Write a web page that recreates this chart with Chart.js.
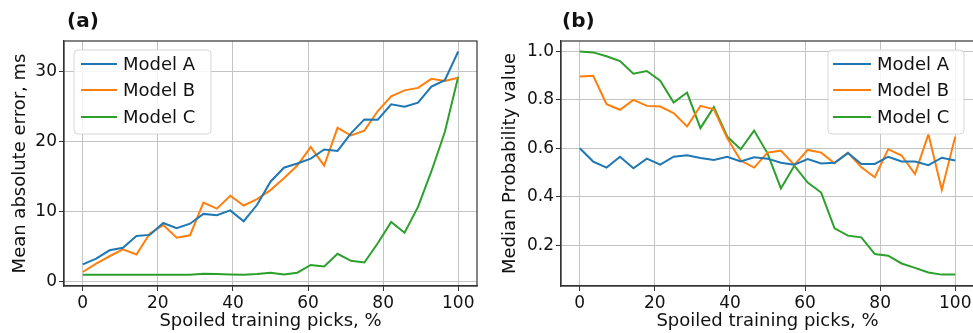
<!DOCTYPE html>
<html>
<head>
<meta charset="utf-8">
<script src="https://cdn.jsdelivr.net/npm/chart.js@4/dist/chart.umd.min.js"></script>
<style>
  html, body { margin: 0; padding: 0; background: #fff; overflow: hidden; }
  #wrap { position: relative; width: 973px; height: 333px; overflow: hidden; }
  canvas { position: absolute; top: 0; }
  #chartA { left: 0; }
  #chartB { left: 490px; }
</style>
</head>
<body>
<div id="wrap">
  <canvas id="chartA" width="490" height="333"></canvas>
  <canvas id="chartB" width="490" height="333"></canvas>
</div>
<script>
// Spoiled training picks, % (shared x values)
const picks = [0, 3.57, 7.14, 10.71, 14.29, 17.86, 21.43, 25, 28.57, 32.14, 35.71, 39.29, 42.86, 46.43,
  50, 53.57, 57.14, 60.71, 64.29, 67.86, 71.43, 75, 78.57, 82.14, 85.71, 89.29, 92.86, 96.43, 100];

const modelNames = ['Model A', 'Model B', 'Model C'];
const modelColors = ['#1f77b4', '#ff7f0e', '#2ca02c'];

// (a) mean absolute error, ms
const maeA = [2.5, 3.3, 4.5, 4.85, 6.55, 6.7, 8.4, 7.65, 8.3, 9.7, 9.5, 10.2, 8.65, 11.0,
  14.3, 16.3, 16.9, 17.6, 18.9, 18.7, 21.2, 23.2, 23.15, 25.35, 25.0, 25.6, 27.9, 28.8, 32.9];
const maeB = [1.4, 2.6, 3.65, 4.65, 3.9, 6.9, 8.1, 6.3, 6.65, 11.3, 10.45, 12.3, 10.9, 11.8,
  13.1, 14.8, 16.6, 19.25, 16.6, 22.0, 20.9, 21.6, 24.4, 26.5, 27.35, 27.7, 29.0, 28.7, 29.15];
const maeC = [1.0, 1.0, 1.0, 1.0, 1.0, 1.0, 1.0, 1.0, 1.0, 1.15, 1.1, 1.05, 1.0, 1.1,
  1.3, 1.05, 1.3, 2.4, 2.2, 4.0, 3.0, 2.75, 5.5, 8.55, 7.0, 10.7, 15.8, 21.4, 29.3];

// (b) median probability value
const probA = [0.60, 0.545, 0.52, 0.565, 0.517, 0.557, 0.532, 0.565, 0.571, 0.56, 0.552, 0.565, 0.545, 0.563,
  0.557, 0.54, 0.532, 0.555, 0.537, 0.54, 0.58, 0.535, 0.535, 0.565, 0.545, 0.545, 0.53, 0.561, 0.549];
const probB = [0.896, 0.899, 0.782, 0.759, 0.80, 0.775, 0.772, 0.745, 0.69, 0.775, 0.761, 0.641, 0.549, 0.52,
  0.582, 0.59, 0.531, 0.593, 0.582, 0.538, 0.582, 0.521, 0.48, 0.596, 0.57, 0.493, 0.658, 0.428, 0.648];
const probC = [1.0, 0.996, 0.98, 0.96, 0.908, 0.919, 0.879, 0.789, 0.83, 0.683, 0.77, 0.648, 0.596, 0.673,
  0.579, 0.434, 0.528, 0.458, 0.417, 0.269, 0.239, 0.232, 0.163, 0.156, 0.124, 0.106, 0.087, 0.078, 0.078];

const xTicks = [0, 20, 40, 60, 80, 100];
const maeTicks = [0, 10, 20, 30];
const probTicks = [0.2, 0.4, 0.6, 0.8, 1.0];

const FONT = 'DejaVu Sans';
const TEXT = '#111';
const LINE_W = 2;

function makeDatasets(seriesList) {
  return seriesList.map((vals, i) => ({
    label: modelNames[i],
    data: vals.map((v, k) => ({ x: picks[k], y: v })),
    borderColor: modelColors[i],
    borderWidth: LINE_W,
    pointRadius: 0,
    tension: 0,
    fill: false
  }));
}

// frame, panel tag and in-plot legend
const decorPlugin = {
  id: 'decor',
  afterDraw(chart, args, opts) {
    const ctx = chart.ctx;
    const a = chart.chartArea;
    ctx.save();
    ctx.strokeStyle = '#333';
    ctx.lineWidth = 1.2;
    ctx.strokeRect(a.left, a.top, a.right - a.left, a.bottom - a.top);

    ctx.fillStyle = TEXT;
    ctx.font = 'bold 20px "' + FONT + '"';
    ctx.textBaseline = 'middle';
    ctx.textAlign = 'left';
    ctx.fillText(opts.tag, opts.tagX, 22);

    const lg = opts.legend;
    ctx.beginPath();
    const r = 4;
    ctx.moveTo(lg.x + r, lg.y);
    ctx.arcTo(lg.x + lg.w, lg.y, lg.x + lg.w, lg.y + lg.h, r);
    ctx.arcTo(lg.x + lg.w, lg.y + lg.h, lg.x, lg.y + lg.h, r);
    ctx.arcTo(lg.x, lg.y + lg.h, lg.x, lg.y, r);
    ctx.arcTo(lg.x, lg.y, lg.x + lg.w, lg.y, r);
    ctx.closePath();
    ctx.fillStyle = 'rgba(255,255,255,0.85)';
    ctx.fill();
    ctx.strokeStyle = '#d6d6d6';
    ctx.lineWidth = 1;
    ctx.stroke();

    ctx.font = '18px "' + FONT + '"';
    chart.data.datasets.forEach((ds, i) => {
      const y = lg.rowY[i];
      ctx.strokeStyle = ds.borderColor;
      ctx.lineWidth = LINE_W;
      ctx.beginPath();
      ctx.moveTo(lg.lineX0, y);
      ctx.lineTo(lg.lineX1, y);
      ctx.stroke();
      ctx.fillStyle = TEXT;
      ctx.fillText(ds.label, lg.textX, y + 1);
    });
    ctx.restore();
  }
};

function makeChart(id, seriesList, cfg) {
  return new Chart(document.getElementById(id), {
    type: 'line',
    data: { datasets: makeDatasets(seriesList) },
    plugins: [decorPlugin],
    options: {
      responsive: false,
      animation: false,
      devicePixelRatio: 1,
      layout: { padding: { top: 41, right: cfg.padRight, left: 0, bottom: 0 } },
      plugins: {
        legend: { display: false },
        tooltip: { enabled: false },
        decor: { tag: cfg.tag, tagX: cfg.tagX, legend: cfg.legend }
      },
      scales: {
        x: {
          type: 'linear',
          min: -5,
          max: 105,
          afterBuildTicks: s => { s.ticks = xTicks.map(v => ({ value: v })); },
          afterFit: s => { s.height = 47; },
          grid: { color: '#c4c4c4', lineWidth: 1, tickColor: '#333', tickLength: 5 },
          border: { color: '#333', width: 1.2 },
          ticks: { color: TEXT, padding: 2, maxRotation: 0, font: { family: FONT, size: 17 } },
          title: {
            display: true,
            text: 'Spoiled training picks, %',
            color: TEXT,
            font: { family: FONT, size: 18, lineHeight: 1.2 },
            padding: { top: 0, bottom: 1 }
          }
        },
        y: {
          type: 'linear',
          min: cfg.yMin,
          max: cfg.yMax,
          afterBuildTicks: s => { s.ticks = cfg.yTicks.map(v => ({ value: v })); },
          afterFit: s => { s.width = cfg.yWidth; },
          grid: { color: '#c4c4c4', lineWidth: 1, tickColor: '#333', tickLength: 5 },
          border: { color: '#333', width: 1.2 },
          ticks: {
            color: TEXT,
            padding: 2,
            font: { family: FONT, size: 17 },
            callback: cfg.yFormat
          },
          title: {
            display: true,
            text: cfg.yTitle,
            color: TEXT,
            font: { family: FONT, size: 18, lineHeight: 1.2 },
            padding: { top: 10, bottom: 0 }
          }
        }
      }
    }
  });
}

makeChart('chartA', [maeA, maeB, maeC], {
  tag: '(a)',
  tagX: 67,
  padRight: 13,
  yWidth: 64,
  yMin: -0.6,
  yMax: 34.4,
  yTicks: maeTicks,
  yFormat: v => String(v),
  yTitle: 'Mean absolute error, ms',
  legend: { x: 74, y: 50, w: 137, h: 84, rowY: [64, 90, 117], lineX0: 81, lineX1: 117, textX: 123 }
});

makeChart('chartB', [probA, probB, probC], {
  tag: '(b)',
  tagX: 72,
  padRight: 6,
  yWidth: 71,
  yMin: 0.031,
  yMax: 1.043,
  yTicks: probTicks,
  yFormat: v => v.toFixed(1),
  yTitle: 'Median Probability value',
  legend: { x: 338, y: 50, w: 136, h: 84, rowY: [64, 90, 117], lineX0: 343, lineX1: 381, textX: 387 }
});
</script>
</body>
</html>
